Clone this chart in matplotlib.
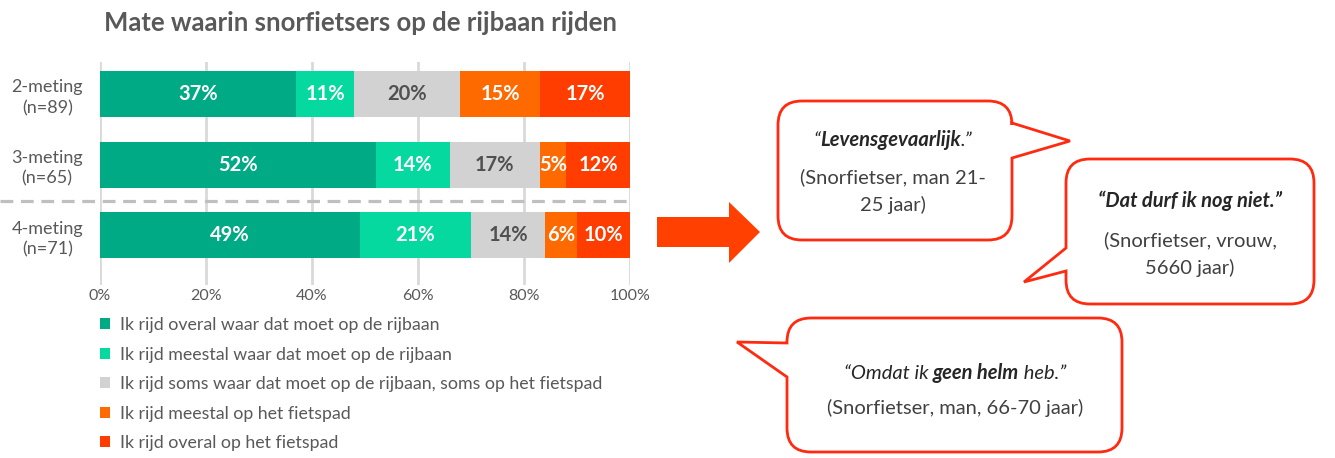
import matplotlib
matplotlib.use("Agg")
import matplotlib.pyplot as plt
import numpy as np
from matplotlib.path import Path
from matplotlib.patches import PathPatch, Polygon
from matplotlib.offsetbox import TextArea, HPacker, AnnotationBbox

plt.rcParams['font.family'] = ['Lato', 'DejaVu Sans']

# ---------------- data ----------------
title = "Mate waarin snorfietsers op de rijbaan rijden"
groups = ["2-meting\n(n=89)", "3-meting\n(n=65)", "4-meting\n(n=71)"]
series_names = [
    "Ik rijd overal waar dat moet op de rijbaan",
    "Ik rijd meestal waar dat moet op de rijbaan",
    "Ik rijd soms waar dat moet op de rijbaan, soms op het fietspad",
    "Ik rijd meestal op het fietspad",
    "Ik rijd overal op het fietspad",
]
overal_rijbaan = [37, 52, 49]
meestal_rijbaan = [11, 14, 21]
soms = [20, 17, 14]
meestal_fietspad = [15, 5, 6]
overal_fietspad = [17, 12, 10]
xticks = [0, 20, 40, 60, 80, 100]
xtick_labels = ["0%", "20%", "40%", "60%", "80%", "100%"]

colors = ["#00AA84", "#05D9A0", "#D2D2D2", "#FF6A00", "#FF3D00"]
label_colors = ["white", "white", "#505050", "white", "white"]
TXT = "#595959"

W, H = 1335, 458
fig = plt.figure(figsize=(W / 100, H / 100), dpi=100)

# main axes in pixel placement
x0p, x1p, y0p, y1p = 100, 630, 62, 285
ax = fig.add_axes([x0p / W, 1 - y1p / H, (x1p - x0p) / W, (y1p - y0p) / H])

data = [overal_rijbaan, meestal_rijbaan, soms, meestal_fietspad, overal_fietspad]
ypos = np.arange(len(groups))
left = np.zeros(len(groups))
handles = []
for vals, c, lc, name in zip(data, colors, label_colors, series_names):
    vals = np.array(vals, dtype=float)
    b = ax.barh(ypos, vals, left=left, height=0.65, color=c, label=name, zorder=3)
    handles.append(b)
    for yi, (l, v) in enumerate(zip(left, vals)):
        ax.text(l + v / 2, yi, f"{int(v)}%", ha='center', va='center',
                color=lc, fontsize=14.5, fontweight='bold', zorder=4)
    left += vals

ax.set_xlim(0, 100)
ax.set_ylim(2.70, -0.45)
ax.set_xticks(xticks)
ax.set_xticklabels(xtick_labels)
ax.set_yticks(ypos)
ax.set_yticklabels(groups)
for lab in ax.get_yticklabels():
    lab.set_ha('center')
    lab.set_multialignment('center')
    lab.set_linespacing(1.35)
ax.tick_params(axis='y', length=0, pad=38, labelsize=13, labelcolor=TXT)
ax.tick_params(axis='x', length=0, pad=3, labelsize=11.5, labelcolor=TXT)
ax.grid(axis='x', color='#D9D9D9', linewidth=2, zorder=0)
ax.set_axisbelow(True)
for s in ax.spines.values():
    s.set_visible(False)

# dashed separator
ax.plot([-100 / 530 * 100, 100], [1.51, 1.51], transform=ax.transData,
        color='#BFBFBF', lw=2.3, ls=(0, (4, 2.4)), clip_on=False, zorder=2)

fig.text(360 / W, 1 - 23 / H, title, ha='center', va='center',
         fontsize=18.5, fontweight='bold', color=TXT)

fig.legend(handles=handles, labels=series_names, loc='upper left',
           bbox_to_anchor=(100 / W, 1 - 317 / H), frameon=False,
           fontsize=12.8, labelcolor=TXT, handlelength=0.55, handleheight=0.55,
           handletextpad=0.55, labelspacing=0.76, borderaxespad=0, borderpad=0)

# ---------------- overlay (pixel coords) ----------------
ov = fig.add_axes([0, 0, 1, 1])
ov.set_xlim(0, W)
ov.set_ylim(H, 0)
ov.axis('off')
ov.patch.set_alpha(0)

arrow = Polygon([(657, 217), (729, 217), (729, 202), (760, 232), (729, 263),
                 (729, 247), (657, 247)], closed=True, color='#FF4000', lw=0)
ov.add_patch(arrow)

RED = '#FF2A10'


def bubble(x0, y0, x1, y1, r, side, tail):
    verts = [(x0 + r, y0), (x1 - r, y0), (x1, y0), (x1, y0 + r)]
    codes = [Path.MOVETO, Path.LINETO, Path.CURVE3, Path.CURVE3]
    if side == 'right':
        for p in tail:
            verts.append(p); codes.append(Path.LINETO)
    verts += [(x1, y1 - r), (x1, y1), (x1 - r, y1), (x0 + r, y1), (x0, y1), (x0, y1 - r)]
    codes += [Path.LINETO, Path.CURVE3, Path.CURVE3, Path.LINETO, Path.CURVE3, Path.CURVE3]
    if side == 'left':
        for p in tail:
            verts.append(p); codes.append(Path.LINETO)
    verts += [(x0, y0 + r), (x0, y0), (x0 + r, y0), (x0 + r, y0)]
    codes += [Path.LINETO, Path.CURVE3, Path.CURVE3, Path.CLOSEPOLY]
    ov.add_patch(PathPatch(Path(verts, codes), facecolor='white', edgecolor=RED,
                           lw=2.0, joinstyle='miter'))


bubble(778, 101, 1012, 240, 24, 'right', [(1012, 123), (1070, 141), (1012, 158)])
bubble(1066, 159, 1314, 304, 24, 'left', [(1066, 271), (1024, 282), (1066, 248)])
bubble(787, 318, 1122, 452, 24, 'left', [(787, 377), (737, 342), (787, 343)])

QC = '#262626'
SC = '#404040'
FS = 14.5


def rich(x, y, pieces, size=FS):
    areas = []
    for txt, w, st, col in pieces:
        areas.append(TextArea(txt, textprops=dict(fontsize=size, fontweight=w,
                                                  fontstyle=st, color=col)))
    box = HPacker(children=areas, pad=0, sep=0, align='baseline')
    ab = AnnotationBbox(box, (x, y), xycoords=ov.transData, frameon=False,
                        box_alignment=(0.5, 0.5), pad=0)
    ov.add_artist(ab)


rich(893, 140, [("\u201c", 'normal', 'italic', QC), ("Levensgevaarlijk", 'bold', 'italic', QC),
                (".\u201d", 'normal', 'italic', QC)])
ov.text(893, 177, "(Snorfietser, man 21-", ha='center', va='center', fontsize=FS, color=SC)
ov.text(893, 205, "25 jaar)", ha='center', va='center', fontsize=FS, color=SC)

rich(1190, 201, [("\u201cDat durf ik nog niet.\u201d", 'bold', 'italic', QC)])
ov.text(1190, 240, "(Snorfietser, vrouw,", ha='center', va='center', fontsize=FS, color=SC)
ov.text(1190, 268, "5660 jaar)", ha='center', va='center', fontsize=FS, color=SC)

rich(955, 373, [("\u201cOmdat ik ", 'normal', 'italic', QC), ("geen helm", 'bold', 'italic', QC),
                (" heb.\u201d", 'normal', 'italic', QC)])
ov.text(955, 408, "(Snorfietser, man, 66-70 jaar)", ha='center', va='center', fontsize=FS, color=SC)

fig.savefig("out.png", dpi=100)
